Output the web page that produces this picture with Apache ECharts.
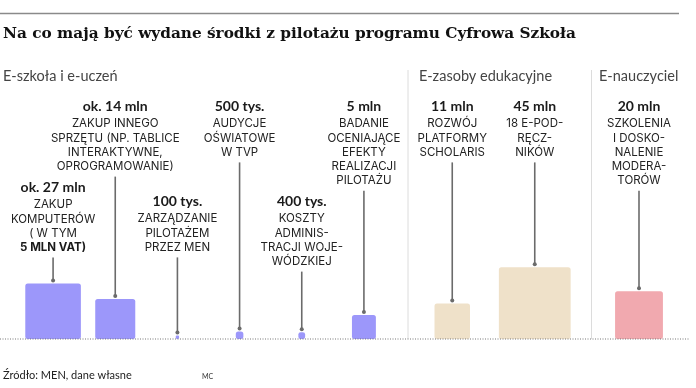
<!DOCTYPE html>
<html>
<head>
<meta charset="utf-8">
<script src="https://cdn.jsdelivr.net/npm/echarts@6/dist/echarts.min.js"></script>
<style>
  html, body { margin: 0; padding: 0; background: #fff; }
  #chart { width: 696px; height: 388px; }
</style>
</head>
<body>
<div id="chart"></div>
<script>
// dane
const groups = ['E-szkoła i e-uczeń', 'E-zasoby edukacyjne', 'E-nauczyciel'];
const groupOf = [0, 0, 0, 0, 0, 0, 1, 1, 2];
const values = [27, 14, 0.1, 0.5, 0.4, 5, 11, 45, 20]; // mln zł
const valueLabels = ['ok. 27 mln', 'ok. 14 mln', '100 tys.', '500 tys.', '400 tys.', '5 mln', '11 mln', '45 mln', '20 mln'];
const descriptions = [
    ['ZAKUP', 'KOMPUTERÓW', '( W TYM', '{b|5 MLN VAT)}'],
    ['ZAKUP INNEGO', 'SPRZĘTU (NP. TABLICE', 'INTERAKTYWNE,', 'OPROGRAMOWANIE)'],
    ['ZARZĄDZANIE', 'PILOTAŻEM', 'PRZEZ MEN'],
    ['AUDYCJE', 'OŚWIATOWE', 'W TVP'],
    ['KOSZTY', 'ADMINIS-', 'TRACJI WOJE-', 'WÓDZKIEJ'],
    ['BADANIE', 'OCENIAJĄCE', 'EFEKTY', 'REALIZACJI', 'PILOTAŻU'],
    ['ROZWÓJ', 'PLATFORMY', 'SCHOLARIS'],
    ['18 E-POD-', 'RĘCZ-', 'NIKÓW'],
    ['SZKOLENIA', 'I DOSKO-', 'NALENIE', 'MODERA-', 'TORÓW']
];

// układ
const labelY = [187, 106, 201, 106, 201, 106, 106, 106, 106];
const colors = ['#9c97fa', '#efe1c9', '#f1a9af'];
const gridBoxes = [
    { left: 22, width: 373 },
    { left: 411, width: 165 },
    { left: 598, width: 82 }
];
const labelFont = 'Lato, sans-serif';
const descFont = 'Inter, sans-serif';
const BASE_Y = 339;

let myChart = echarts.init(document.getElementById('chart'));

function renderItem(params, api) {
    let i = api.value(2);
    let top = api.coord([api.value(0), api.value(1)]);
    let base = api.coord([api.value(0), 0]);
    let cx = top[0];
    let side = base[1] - top[1];
    let desc = descriptions[i];
    let y0 = labelY[i];
    let lineTop = y0 + 18 + (desc.length - 1) * 14.2 + 10;
    let barTop = base[1] - side;
    let children = [
        {
            type: 'rect',
            shape: { x: cx - side / 2, y: barTop, width: side, height: side, r: Math.min(2.5, side / 3) },
            style: { fill: colors[groupOf[i]] }
        },
        {
            type: 'line',
            shape: { x1: cx, y1: lineTop, x2: cx, y2: barTop - 3 },
            style: { stroke: '#6b6b6b', lineWidth: 1.6 }
        },
        {
            type: 'circle',
            shape: { cx: cx, cy: barTop - 3, r: 2 },
            style: { fill: '#6b6b6b' }
        },
        {
            type: 'text',
            style: {
                text: valueLabels[i], x: cx, y: y0,
                align: 'center', verticalAlign: 'middle',
                font: 'bold 14px ' + labelFont, fill: '#1a1a1a'
            }
        }
    ];
    desc.forEach(function (line, k) {
        children.push({
            type: 'text',
            style: {
                text: line, x: cx, y: y0 + 18 + k * 14.2,
                align: 'center', verticalAlign: 'middle',
                font: '11.5px ' + descFont, fill: '#222',
                rich: { b: { fontWeight: 'bold', fontSize: 11.5, fontFamily: 'Inter', fill: '#1a1a1a' } }
            }
        });
    });
    return { type: 'group', children: children };
}

let grids = [], xAxes = [], yAxes = [], series = [];
groups.forEach(function (g, gi) {
    grids.push({ left: gridBoxes[gi].left, width: gridBoxes[gi].width, top: BASE_Y - 26 * 10.7, bottom: 388 - BASE_Y });
    let idx = [];
    groupOf.forEach(function (v, i) { if (v === gi) idx.push(i); });
    xAxes.push({ type: 'category', gridIndex: gi, data: idx.map(i => valueLabels[i]), show: false });
    yAxes.push({ type: 'value', gridIndex: gi, min: 0, max: 26, show: false });
    series.push({
        type: 'custom',
        name: g,
        xAxisIndex: gi,
        yAxisIndex: gi,
        renderItem: renderItem,
        encode: { x: 0, y: 1 },
        // pole kwadratu proporcjonalne do kwoty
        data: idx.map(i => [valueLabels[i], Math.sqrt(values[i]), i]),
        silent: true
    });
});

let option = {
    animation: false,
    grid: grids,
    xAxis: xAxes,
    yAxis: yAxes,
    series: series,
    graphic: [
        { type: 'line', shape: { x1: 0, y1: 13.5, x2: 679, y2: 13.5 }, style: { stroke: '#8a8a8a', lineWidth: 1.5 } },
        {
            type: 'text', left: 3, top: 27,
            style: { text: 'Na co mają być wydane środki z pilotażu programu Cyfrowa Szkoła', font: 'bold 15.3px "DejaVu Serif", serif', fill: '#111' }
        },
        { type: 'text', left: 3, top: 69, style: { text: groups[0], font: '14.5px ' + labelFont, fill: '#444' } },
        { type: 'text', left: 419, top: 69, style: { text: groups[1], font: '14.5px ' + labelFont, fill: '#444' } },
        { type: 'text', left: 599, top: 69, style: { text: groups[2], font: '14.5px ' + labelFont, fill: '#444' } },
        { type: 'line', shape: { x1: 408, y1: 70, x2: 408, y2: BASE_Y }, style: { stroke: '#dcdcdc', lineWidth: 1 } },
        { type: 'line', shape: { x1: 591.5, y1: 70, x2: 591.5, y2: BASE_Y }, style: { stroke: '#dcdcdc', lineWidth: 1 } },
        { type: 'line', z: 10, shape: { x1: 0, y1: BASE_Y, x2: 689, y2: BASE_Y }, style: { stroke: '#777', lineWidth: 1, lineDash: [1, 1.5] } },
        { type: 'text', left: 3, top: 370, style: { text: 'Źródło: MEN, dane własne', font: '11px ' + labelFont, fill: '#222' } },
        { type: 'text', left: 202, top: 373, style: { text: 'MC', font: '7px ' + labelFont, fill: '#333' } }
    ]
};

myChart.setOption(option);
</script>
</body>
</html>
